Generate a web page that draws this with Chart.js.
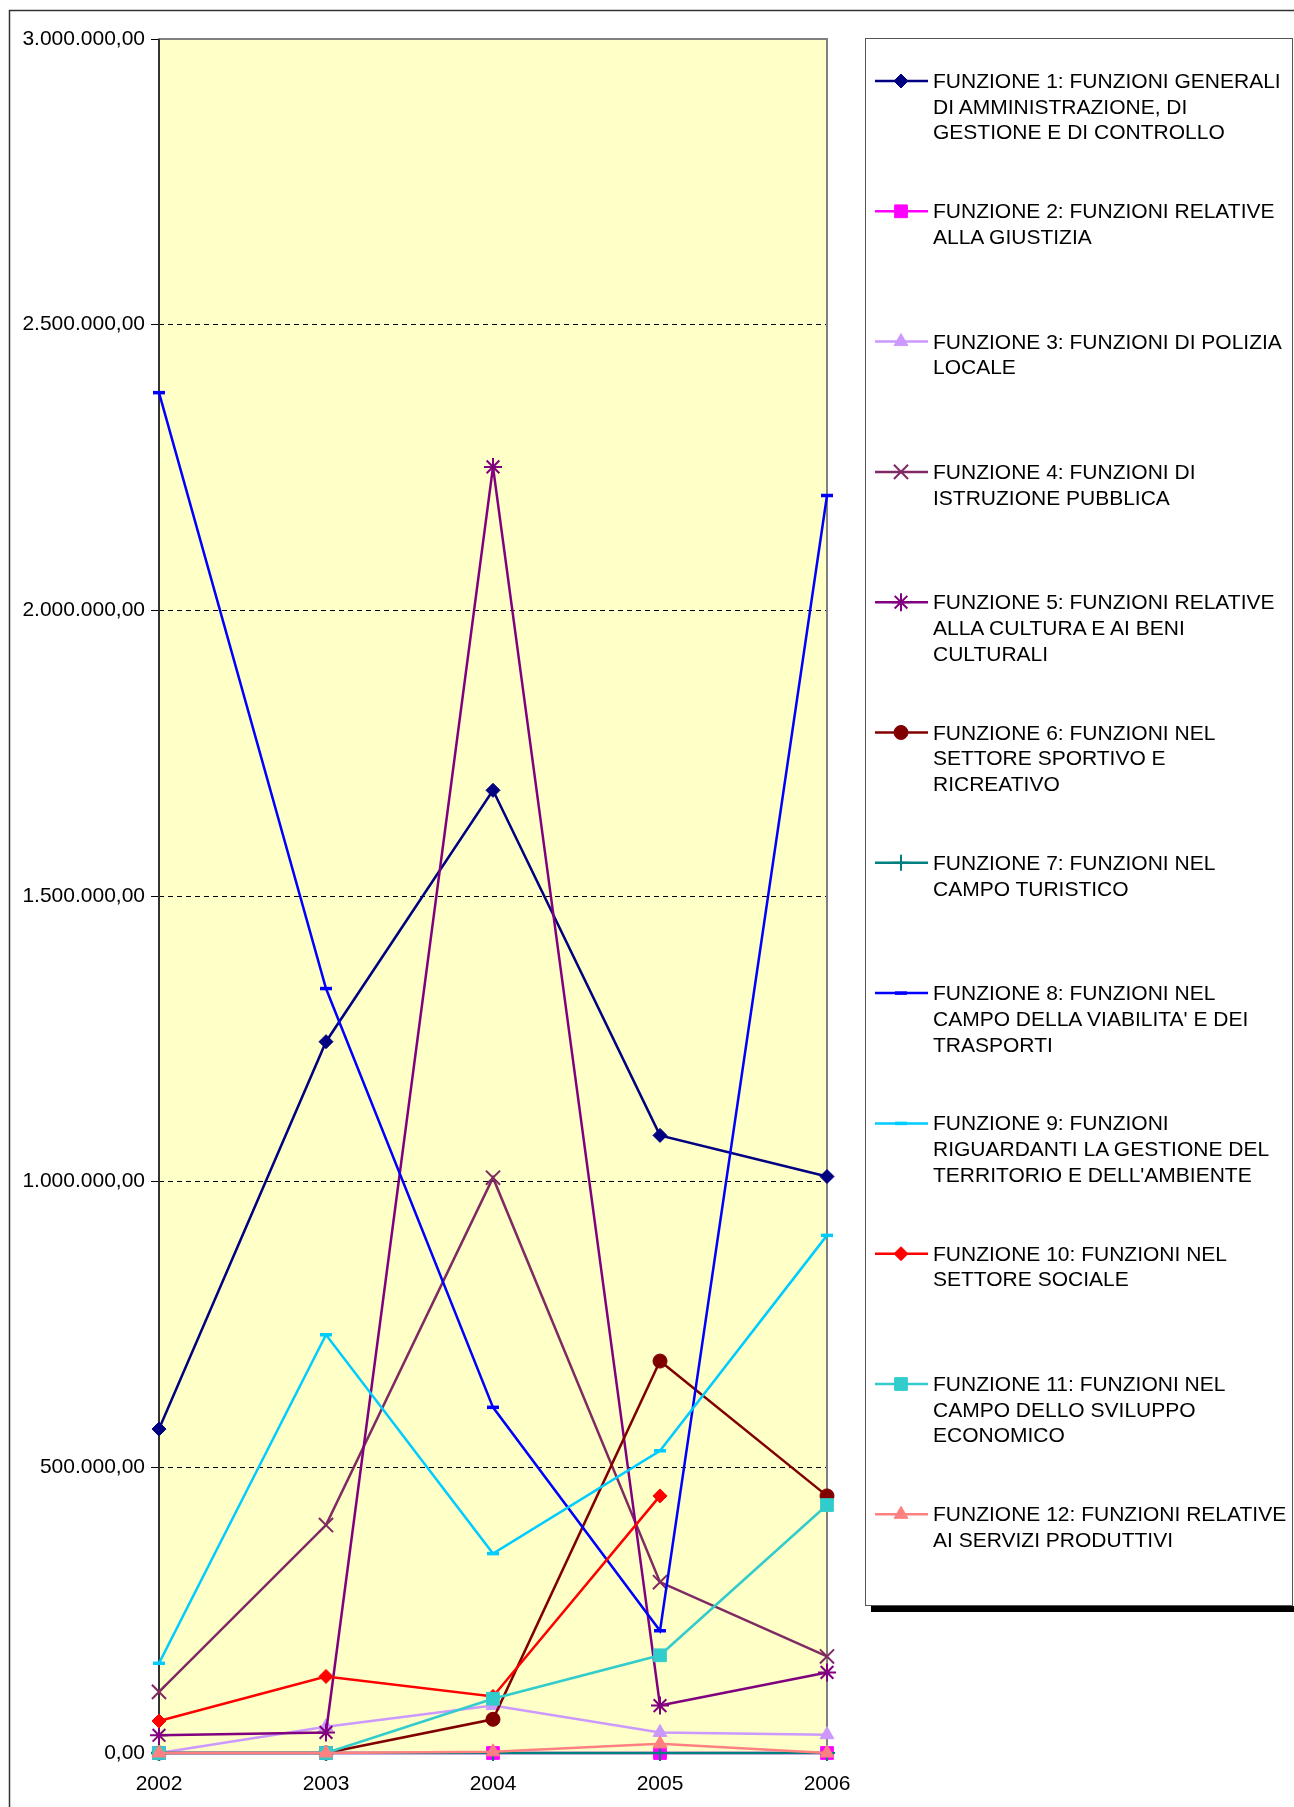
<!DOCTYPE html>
<html>
<head>
<meta charset="utf-8">
<script src="https://cdn.jsdelivr.net/npm/chart.js@4.4.1/dist/chart.umd.min.js"></script>
<style>
  body { margin: 0; background: #fff; }
  #wrap { position: relative; width: 1294px; height: 1807px; }
  #legend { position: absolute; left: 0; top: 0; }
  .item {
    position: absolute;
    left: 933px;
    font: 21px "Liberation Sans", Arial, sans-serif;
    line-height: 25.7px;
    white-space: nowrap;
    color: #000;
  }
</style>
</head>
<body>
<div id="wrap">
  <canvas id="c" width="1294" height="1807"></canvas>
  <div id="legend"></div>
</div>
<script>
// categories
const years = ["2002", "2003", "2004", "2005", "2006"];

// series values
const f1 = [567000, 1245000, 1685000, 1081000, 1009000];
const f2 = [0, 0, 0, 0, 0];
const f3 = [0, 46000, 83000, 36000, 32000];
const f4 = [107000, 399000, 1007000, 299000, 169000];
const f5 = [31000, 36000, 2251000, 83000, 141000];
const f6 = [0, 0, 59000, 686000, 450000];
const f7 = [0, 0, 0, 0, 0];
const f8 = [2381000, 1338000, 605000, 214000, 2201000];
const f9 = [157000, 732000, 349000, 529000, 906000];
const f10 = [56000, 134000, 99000, 450000, null];
const f11 = [0, 0, 95000, 171000, 434000];
const f12 = [0, 0, 2000, 16000, 0];

// tick labels
const yTicks = [0, 500000, 1000000, 1500000, 2000000, 2500000, 3000000];

// legend names, split as in the picture
const names = [
  ["FUNZIONE 1: FUNZIONI GENERALI", "DI AMMINISTRAZIONE, DI", "GESTIONE E DI CONTROLLO"],
  ["FUNZIONE 2: FUNZIONI RELATIVE", "ALLA GIUSTIZIA"],
  ["FUNZIONE 3: FUNZIONI DI POLIZIA", "LOCALE"],
  ["FUNZIONE 4: FUNZIONI DI", "ISTRUZIONE PUBBLICA"],
  ["FUNZIONE 5: FUNZIONI RELATIVE", "ALLA CULTURA E AI BENI", "CULTURALI"],
  ["FUNZIONE 6: FUNZIONI NEL", "SETTORE SPORTIVO E", "RICREATIVO"],
  ["FUNZIONE 7: FUNZIONI NEL", "CAMPO TURISTICO"],
  ["FUNZIONE 8: FUNZIONI NEL", "CAMPO DELLA VIABILITA' E DEI", "TRASPORTI"],
  ["FUNZIONE 9: FUNZIONI", "RIGUARDANTI LA GESTIONE DEL", "TERRITORIO E DELL'AMBIENTE"],
  ["FUNZIONE 10: FUNZIONI NEL", "SETTORE SOCIALE"],
  ["FUNZIONE 11: FUNZIONI NEL", "CAMPO DELLO SVILUPPO", "ECONOMICO"],
  ["FUNZIONE 12: FUNZIONI RELATIVE", "AI SERVIZI PRODUTTIVI"]
];

const values = [f1, f2, f3, f4, f5, f6, f7, f8, f9, f10, f11, f12];
const colors = ["#000080", "#FF00FF", "#CC99FF", "#7F2A62", "#800080", "#800000",
                "#008080", "#0000FF", "#00CCFF", "#FF0000", "#33CCCC", "#FF8080"];
const styles = ["rectRot", "rect", "triangle", "crossRot", "star", "circle",
                "cross", "line", "line", "rectRot", "rect", "triangle"];
const radii = [7, 9, 8, 10, 9, 7, 8, 6, 6, 7, 9, 8];

function fmt(v) {
  const s = Math.round(v).toString().replace(/\B(?=(\d{3})+(?!\d))/g, ".");
  return s + ",00";
}

const datasets = values.map((d, i) => {
  const filled = !["crossRot", "star", "cross", "line"].includes(styles[i]);
  return {
    label: names[i].join(" "),
    data: d,
    borderColor: colors[i],
    backgroundColor: colors[i],
    borderWidth: 2.5,
    pointStyle: styles[i],
    pointRadius: radii[i],
    pointBorderWidth: filled ? 1 : (styles[i] === "line" ? 3.5 : 2),
    pointBackgroundColor: colors[i],
    pointBorderColor: colors[i],
    tension: 0,
    spanGaps: false,
    clip: false,
    order: values.length - 1 - i
  };
});

const legendTop = 81;
const legendStep = 130.3;

const decor = {
  id: "decor",
  beforeDraw(chart) {
    const ctx = chart.ctx, a = chart.chartArea;
    ctx.save();
    ctx.fillStyle = "#fff";
    ctx.fillRect(0, 0, chart.width, chart.height);
    ctx.fillStyle = "#FFFFC8";
    ctx.fillRect(a.left, a.top, a.right - a.left, a.bottom - a.top);
    ctx.strokeStyle = "#333";
    ctx.lineWidth = 1.5;
    ctx.beginPath();
    ctx.moveTo(9.5, chart.height);
    ctx.lineTo(9.5, 10.5);
    ctx.lineTo(chart.width, 10.5);
    ctx.stroke();
    ctx.restore();
  },
  beforeDatasetsDraw(chart) {
    const ctx = chart.ctx, a = chart.chartArea;
    ctx.save();
    ctx.strokeStyle = "#808080";
    ctx.lineWidth = 2;
    ctx.strokeRect(a.left, a.top, a.right - a.left, a.bottom - a.top);
    ctx.strokeStyle = "#333";
    ctx.beginPath();
    ctx.moveTo(a.left, a.top);
    ctx.lineTo(a.left, a.bottom);
    ctx.stroke();
    ctx.restore();
  },
  afterDraw(chart) {
    const ctx = chart.ctx;
    ctx.save();
    // legend box with shadow
    ctx.fillStyle = "#000";
    ctx.fillRect(871, 1606, chart.width - 871, 6);
    ctx.fillStyle = "#fff";
    ctx.fillRect(865.5, 38.5, 427, 1567);
    ctx.strokeStyle = "#555";
    ctx.lineWidth = 1;
    ctx.strokeRect(865.5, 38.5, 427, 1567);
    chart.data.datasets.forEach((ds, i) => {
      const y = legendTop + i * legendStep;
      ctx.strokeStyle = ds.borderColor;
      ctx.lineWidth = 2.5;
      ctx.beginPath();
      ctx.moveTo(875, y);
      ctx.lineTo(928, y);
      ctx.stroke();
      ctx.fillStyle = ds.pointBackgroundColor;
      ctx.strokeStyle = ds.pointBorderColor;
      ctx.lineWidth = ds.pointBorderWidth;
      if (Chart.helpers && Chart.helpers.drawPoint) {
        Chart.helpers.drawPoint(ctx, {
          pointStyle: ds.pointStyle, rotation: 0,
          radius: ds.pointRadius, borderWidth: ds.pointBorderWidth
        }, 901, y);
      }
    });
    ctx.restore();
  }
};

Chart.defaults.font.family = '"Liberation Sans", Arial, sans-serif';
Chart.defaults.font.size = 21;
Chart.defaults.color = "#000";

new Chart(document.getElementById("c"), {
  type: "line",
  data: { labels: years, datasets: datasets },
  options: {
    responsive: false,
    animation: false,
    devicePixelRatio: 1,
    layout: { padding: { left: 0, top: 39, right: 467, bottom: 0 } },
    plugins: { legend: { display: false }, tooltip: { enabled: false } },
    scales: {
      x: {
        type: "category",
        offset: false,
        grid: { display: false, drawTicks: false },
        border: { display: false },
        ticks: { padding: 19, maxRotation: 0, autoSkip: false },
        afterFit(s) { s.height = 54; }
      },
      y: {
        min: 0,
        max: 3000000,
        afterBuildTicks(s) { s.ticks = yTicks.map(v => ({ value: v })); },
        ticks: { padding: 6, callback: v => fmt(v) },
        grid: {
          color: c => (c.tick && (c.tick.value === 0 || c.tick.value === 3000000)) ? "rgba(0,0,0,0)" : "#000",
          lineWidth: 1,
          tickColor: "#000",
          tickLength: 8,
          tickBorderDash: []
        },
        border: { display: false, dash: [5, 4] },
        afterFit(s) { s.width = 159; }
      }
    }
  },
  plugins: [decor]
});

// legend text as HTML
const legendDiv = document.getElementById("legend");
names.forEach((lines, i) => {
  const el = document.createElement("div");
  el.className = "item";
  el.style.top = (legendTop + i * legendStep - 13) + "px";
  el.innerHTML = lines.join("<br>");
  legendDiv.appendChild(el);
});
</script>
</body>
</html>
